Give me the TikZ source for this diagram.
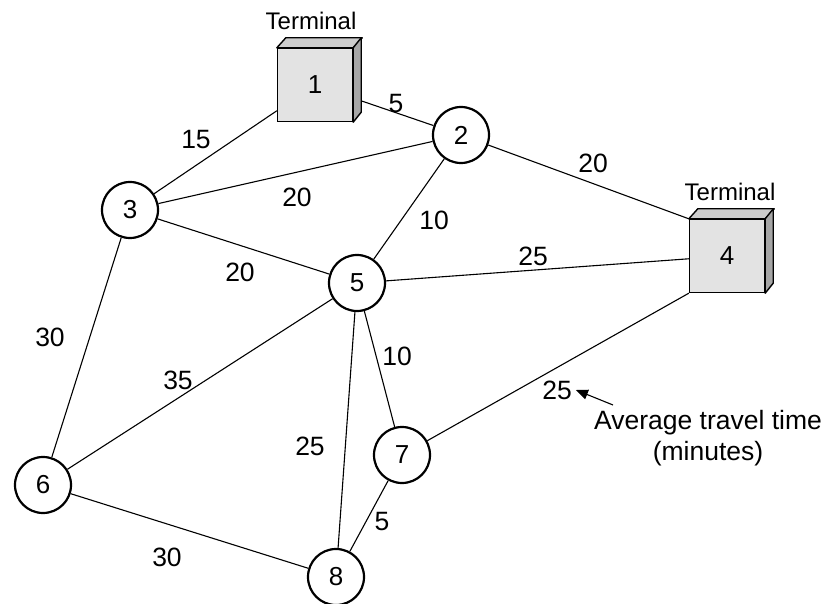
\documentclass[tikz,border=0pt]{standalone}
\usepackage{fontspec}
\setmainfont{Liberation Sans}
\usetikzlibrary{arrows.meta,backgrounds}
\begin{document}
\begin{tikzpicture}[x=1pt,y=-1pt,
  stn/.style={circle,draw,line width=2.2pt,minimum size=56pt,inner sep=0pt,fill=white,font=\fontsize{26}{30}\selectfont},
  term/.style={rectangle,draw,line width=1.4pt,fill=black!11,minimum width=75pt,minimum height=73pt,inner sep=0pt,font=\fontsize{26}{30}\selectfont},
  face/.style={draw,line width=1.4pt,line join=round},
  edge/.style={line width=1.1pt},
  lab/.style={font=\fontsize{26.5}{31}\selectfont,inner sep=0pt},
  ttl/.style={font=\fontsize{24}{28}\selectfont,inner sep=0pt}]
\useasboundingbox (0,0) rectangle (833,604);
% terminals
\node[term] (t1) at (315,85) {1};
\filldraw[face,fill=black!20] (t1.north west) -- ++(9pt,10pt) -- ([shift={(9pt,10pt)}]t1.north east) -- (t1.north east) -- cycle;
\filldraw[face,fill=black!35] (t1.north east) -- ++(8pt,10pt) -- ([shift={(8pt,10pt)}]t1.south east) -- (t1.south east) -- cycle;
\node[ttl] (tl1) at (311,21) {Terminal};
\node[term] (t4) at (727,256) {4};
\filldraw[face,fill=black!20] (t4.north west) -- ++(9pt,10pt) -- ([shift={(9pt,10pt)}]t4.north east) -- (t4.north east) -- cycle;
\filldraw[face,fill=black!35] (t4.north east) -- ++(8pt,10pt) -- ([shift={(8pt,10pt)}]t4.south east) -- (t4.south east) -- cycle;
\node[ttl] (tl4) at (730,192) {Terminal};
% stations
\node[stn] (n2) at (461,135) {2};
\node[stn] (n3) at (130,210) {3};
\node[stn] (n5) at (357,283) {5};
\node[stn] (n6) at (43,485) {6};
\node[stn] (n7) at (402,455) {7};
\node[stn] (n8) at (336,577) {8};
% edges
\begin{scope}[on background layer]
\draw[edge] (t1) -- (n2);
\draw[edge] (t1) -- (n3);
\draw[edge] (n2) -- (n3);
\draw[edge] (n2) -- (t4.north west);
\draw[edge] (n2) -- (n5);
\draw[edge] (n3) -- (n5);
\draw[edge] (n3) -- (n6);
\draw[edge] (n5) -- (t4);
\draw[edge] (n5) -- (n6);
\draw[edge] (n5) -- (n7);
\draw[edge] (n5) -- (n8);
\draw[edge] (t4.south west) -- (n7);
\draw[edge] (n7) -- (n8);
\draw[edge] (n6) -- (n8);
\end{scope}
% labels
\node[lab] (l12) at (396,104) {5};
\node[lab] (l13) at (196,140) {15};
\node[lab] (l23) at (297,197) {20};
\node[lab] (l24) at (593,163) {20};
\node[lab] (l25) at (434,220) {10};
\node[lab] (l54) at (533,256) {25};
\node[lab] (l35) at (240,272) {20};
\node[lab] (l36) at (50,337) {30};
\node[lab] (l56) at (178,380) {35};
\node[lab] (l57) at (397,356) {10};
\node[lab] (l47) at (557,390) {25};
\node[lab] (l58) at (310,446) {25};
\node[lab] (l78) at (382,522) {5};
\node[lab] (l68) at (167,557) {30};
\node[lab,align=center] (note) at (708,438) {Average travel time\\(minutes)};
\coordinate (tail) at (613,405);
\draw[line width=1.1pt,-{Triangle[length=12pt,width=10pt]}] (tail) -- ([xshift=4pt]l47.east);
\end{tikzpicture}
\end{document}
